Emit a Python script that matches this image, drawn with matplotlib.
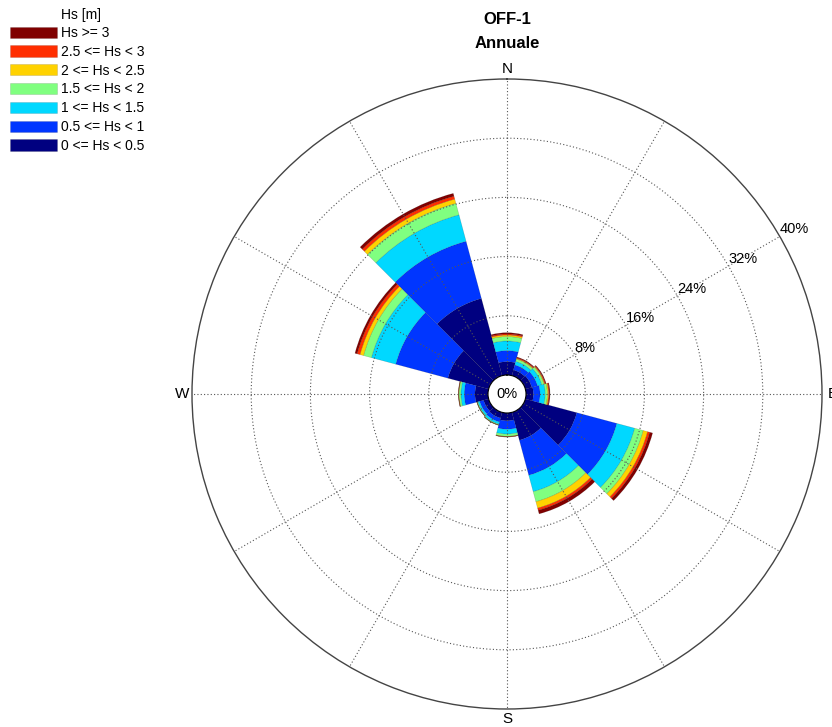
import numpy as np
import matplotlib
matplotlib.use("Agg")
import matplotlib.pyplot as plt

plt.rcParams['font.family'] = ['Liberation Sans', 'DejaVu Sans']

# direction sectors (deg from north, clockwise) and frequency (%) per Hs class
directions = [0, 30, 60, 90, 120, 150, 180, 210, 240, 270, 300, 330]
hs_0_05 = [1.8, 0.8, 0.9, 1.0, 7.2, 3.9, 1.05, 0.8, 0.7, 1.76, 5.7, 10.8]
hs_05_1 = [1.5, 0.7, 0.8, 0.9, 5.6, 4.9, 1.15, 0.55, 0.55, 1.45, 7.3, 8.0]
hs_1_15 = [1.3, 0.5, 0.6, 0.7, 2.5, 2.3, 0.65, 0.3, 0.25, 0.45, 3.4, 3.7]
hs_15_2 = [0.6, 0.3, 0.3, 0.3, 1.2, 1.4, 0.3, 0.1, 0.1, 0.25, 1.1, 1.6]
hs_2_25 = [0.2, 0.1, 0.1, 0.15, 0.6, 0.9, 0.05, 0.03, 0.03, 0.05, 0.5, 0.6]
hs_25_3 = [0.15, 0.1, 0.1, 0.1, 0.3, 0.3, 0.03, 0.01, 0.01, 0.03, 0.4, 0.4]
hs_3 = [0.17, 0.1, 0.1, 0.1, 0.4, 0.5, 0.02, 0.01, 0.01, 0.02, 0.3, 0.4]

classes = [hs_0_05, hs_05_1, hs_1_15, hs_15_2, hs_2_25, hs_25_3, hs_3]
class_labels = ["0 <= Hs < 0.5", "0.5 <= Hs < 1", "1 <= Hs < 1.5", "1.5 <= Hs < 2",
                "2 <= Hs < 2.5", "2.5 <= Hs < 3", "Hs >= 3"]
class_colors = ["#000080", "#0036ff", "#00d8ff", "#80ff80",
                "#ffd200", "#ff2e00", "#800000"]

ring_ticks = [8, 16, 24, 32, 40]
compass = {0: "N", 90: "E", 180: "S", 270: "W"}

W, H = 832, 727
cx, cy, R = 507, 394, 315
hole = 19

fig = plt.figure(figsize=(W / 100, H / 100), dpi=100)
ax = fig.add_axes([(cx - R) / W, (H - cy - R) / H, 2 * R / W, 2 * R / H],
                  projection='polar')
ax.set_theta_zero_location('N')
ax.set_theta_direction(-1)
rmax = ring_ticks[-1]
ax.set_ylim(0, rmax)
ax.set_rorigin(-hole * rmax / (R - hole))

theta = np.deg2rad(directions)
width = np.deg2rad(30)
bottom = np.zeros(len(directions))
handles = []
for vals, lab, col in zip(classes, class_labels, class_colors):
    vals = np.array(vals)
    b = ax.bar(theta, vals, width=width, bottom=bottom, color=col,
               edgecolor=(0, 0, 0, 0.2), linewidth=0.4, label=lab)
    handles.append(b)
    bottom += vals

# grid
ax.set_thetagrids(range(0, 360, 30), labels=[""] * 12)
ax.set_rgrids(ring_ticks[:-1], labels=[])
ax.grid(True, linestyle=(0, (1, 2)), color="#555555", linewidth=0.8)
ax.spines['polar'].set_color("#444444")
ax.spines['polar'].set_linewidth(1.0)
ax.spines['inner'].set_visible(False)

for deg, name in compass.items():
    ax.text(np.deg2rad(deg), rmax * 1.035, name, ha='center', va='center',
            fontsize=11, clip_on=False)

for v in ring_ticks:
    ax.text(np.deg2rad(60), v, f"{v}%", ha='left', va='bottom', fontsize=10.5)
ax.text(0.5, 0.5, "0%", transform=ax.transAxes, ha='center', va='center',
        fontsize=10.5)

fig.text(cx / W, 1 - 20 / H, "OFF-1", ha='center', va='center',
         fontsize=12, fontweight='bold')
fig.text(cx / W, 1 - 43 / H, "Annuale", ha='center', va='center',
         fontsize=12, fontweight='bold')

leg = ax.legend(handles[::-1], class_labels[::-1], loc='upper left',
                bbox_to_anchor=(10 / W, 1 - 26 / H), bbox_transform=fig.transFigure,
                frameon=False, fontsize=10, handlelength=3.4, handleheight=0.86,
                handletextpad=0.29, labelspacing=0.345, borderpad=0,
                borderaxespad=0)
fig.text(61 / W, 1 - 15 / H, "Hs [m]", ha='left', va='center', fontsize=10)

fig.savefig("out.png", dpi=100)
